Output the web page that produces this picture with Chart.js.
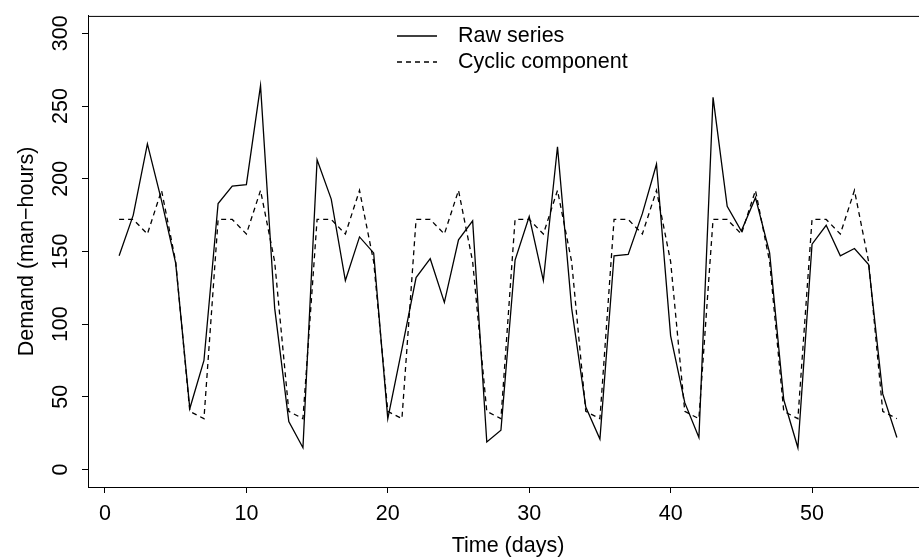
<!DOCTYPE html>
<html>
<head>
<meta charset="utf-8">
<script src="https://cdn.jsdelivr.net/npm/chart.js@4/dist/chart.umd.min.js"></script>
<style>
  html, body { margin: 0; padding: 0; background: #fff; overflow: hidden; }
  #wrap { width: 919px; height: 559px; overflow: hidden; }
</style>
</head>
<body>
<div id="wrap"><canvas id="demand__chart" width="930" height="559"></canvas></div>
<script>
var days = [1, 2, 3, 4, 5, 6, 7, 8, 9, 10, 11, 12, 13, 14, 15, 16, 17, 18, 19, 20,
  21, 22, 23, 24, 25, 26, 27, 28, 29, 30, 31, 32, 33, 34, 35, 36, 37, 38, 39, 40,
  41, 42, 43, 44, 45, 46, 47, 48, 49, 50, 51, 52, 53, 54, 55, 56];
var rawSeries = [147, 175, 224, 185, 142, 42, 75, 183, 195, 196, 264, 111, 33, 15,
  213, 186, 130, 160, 149, 35, 83, 132, 145, 115, 158, 171, 19, 27,
  144, 174, 130, 222, 111, 43, 21, 147, 148, 176, 210, 92, 46, 22,
  256, 181, 164, 187, 149, 48, 15, 155, 168, 147, 152, 141, 52, 22];
var cyclicComponent = [172, 172, 162, 192, 143, 40, 35, 172, 172, 162, 192, 143, 40, 35,
  172, 172, 162, 192, 143, 40, 35, 172, 172, 162, 192, 143, 40, 35,
  172, 172, 162, 192, 143, 40, 35, 172, 172, 162, 192, 143, 40, 35,
  172, 172, 162, 192, 143, 40, 35, 172, 172, 162, 192, 143, 40, 35];
var xTicks = [0, 10, 20, 30, 40, 50];
var yTicks = [0, 50, 100, 150, 200, 250, 300];

var font = "'Liberation Sans', Arial, Helvetica, sans-serif";
var fontSize = 21.5;

function toPoints(vals) {
    return vals.map(function (v, i) { return {x: days[i], y: v}; });
}

// box round the plot region and a two-row legend, drawn the way R does it
var boxAndLegend = {
    id: 'boxAndLegend',
    afterDraw: function (chart) {
        var c = chart.ctx, a = chart.chartArea;
        c.save();
        c.strokeStyle = '#000';
        c.lineWidth = 1;
        c.setLineDash([]);
        c.strokeRect(a.left + 0.5, a.top + 0.5, a.right - a.left, a.bottom - a.top);
        c.font = fontSize + 'px ' + font;
        c.fillStyle = '#000';
        c.textBaseline = 'middle';
        chart.data.datasets.forEach(function (ds, i) {
            var y = 36 + i * 26;
            c.beginPath();
            c.lineWidth = 1.3;
            c.setLineDash(ds.borderDash || []);
            c.moveTo(397, y);
            c.lineTo(437, y);
            c.stroke();
            c.fillText(ds.label, 458, y);
        });
        c.restore();
    }
};

var ctx = document.getElementById('demand__chart').getContext('2d');
var demandChart = new Chart(ctx, {
    type: 'line',
    data: {
        datasets: [{
            label: 'Raw series',
            data: toPoints(rawSeries),
            borderColor: '#000',
            borderWidth: 1.3,
            pointRadius: 0,
            tension: 0
        }, {
            label: 'Cyclic component',
            data: toPoints(cyclicComponent),
            borderColor: '#000',
            borderWidth: 1.3,
            borderDash: [5, 4],
            pointRadius: 0,
            tension: 0
        }]
    },
    options: {
        responsive: false,
        devicePixelRatio: 1,
        animation: false,
        layout: { padding: { top: 10, right: 2, left: 0, bottom: 0 } },
        plugins: {
            legend: { display: false },
            tooltip: { enabled: false }
        },
        scales: {
            x: {
                type: 'linear',
                min: -1.2,
                max: 58.2,
                afterBuildTicks: function (s) { s.ticks = xTicks.map(function (v) { return {value: v}; }); },
                afterFit: function (s) { s.height = 72; },
                grid: { drawOnChartArea: false, drawTicks: true, tickLength: 6, color: '#000' },
                border: { display: true, color: '#000' },
                ticks: { color: '#000', padding: 8, maxRotation: 0, font: { family: font, size: fontSize } },
                title: { display: true, text: 'Time (days)', color: '#000', padding: { top: 0, bottom: 0 }, font: { family: font, size: fontSize } }
            },
            y: {
                type: 'linear',
                min: -12,
                max: 312,
                afterBuildTicks: function (s) { s.ticks = yTicks.map(function (v) { return {value: v}; }); },
                afterFit: function (s) { s.width = 88; },
                grid: { drawOnChartArea: false, drawTicks: true, tickLength: 6, color: '#000' },
                border: { display: true, color: '#000' },
                ticks: { color: '#000', padding: 3, minRotation: 90, maxRotation: 90, crossAlign: 'center', font: { family: font, size: fontSize } },
                title: { display: true, text: 'Demand (man\u2212hours)', color: '#000', padding: { top: 14, bottom: 0 }, font: { family: font, size: fontSize } }
            }
        }
    },
    plugins: [boxAndLegend]
});
</script>
</body>
</html>
